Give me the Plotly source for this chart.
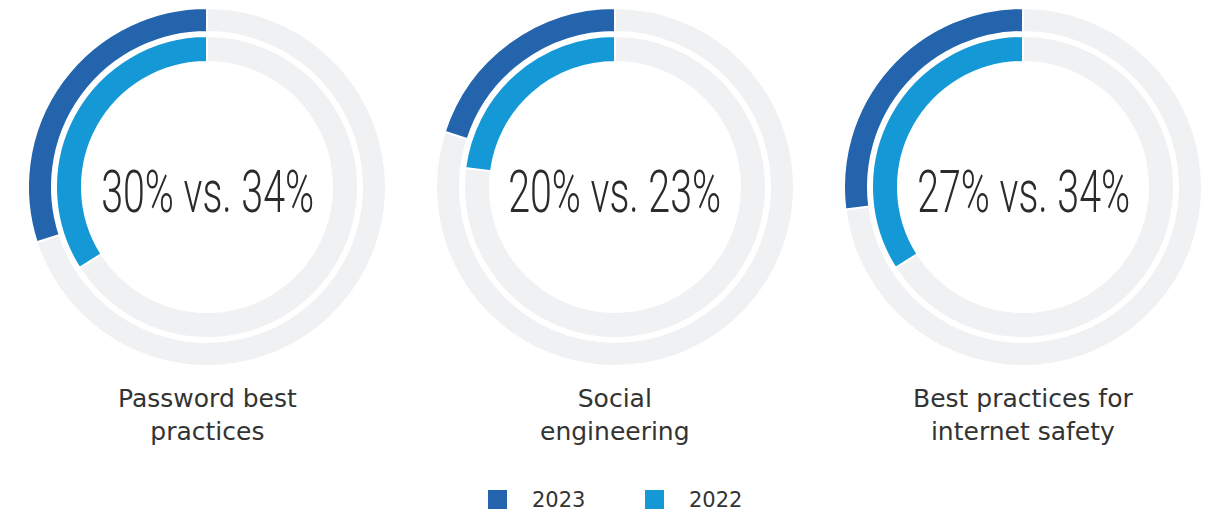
import plotly.graph_objects as go

# Survey topics and the share of respondents per year
topics = ["Password best<br>practices", "Social<br>engineering", "Best practices for<br>internet safety"]
share_2023 = [30, 20, 27]
share_2022 = [34, 23, 34]
years = ["2023", "2022"]

W, H = 1220, 511
DARK = "#2364AD"
LIGHT = "#1499D6"
TRACK = "#F0F1F3"
TEXT = "#2b2b2b"

centers_x = [207, 615, 1023]   # donut centres in px
center_y = 187                 # from top, px
R_OUT, HOLE_OUT = 179, 155 / 179
R_IN, HOLE_IN = 151, 125 / 151


def px(x, y):
    """Pixel position (from top-left) to paper coordinates."""
    return x / W, (H - y) / H


def domain(cx, r):
    yb = H - center_y
    return dict(x=[(cx - r) / W, (cx + r) / W], y=[(yb - r) / H, (yb + r) / H])


fig = go.Figure()

for i, topic in enumerate(topics):
    cx = centers_x[i]
    for val, color, r, hole in [
        (share_2023[i], DARK, R_OUT, HOLE_OUT),
        (share_2022[i], LIGHT, R_IN, HOLE_IN),
    ]:
        # grey remainder first, so the coloured share ends at 12 o'clock
        fig.add_trace(go.Pie(
            values=[100 - val, val],
            labels=["rest", "value"],
            marker=dict(colors=[TRACK, color], line=dict(color="white", width=2)),
            hole=hole,
            sort=False,
            direction="clockwise",
            rotation=0,
            textinfo="none",
            hoverinfo="skip",
            showlegend=False,
            domain=domain(cx, r),
        ))
    x0, y0 = px(cx, 191)
    fig.add_annotation(
        x=x0, y=y0, xref="paper", yref="paper",
        text=f"{share_2023[i]}% vs. {share_2022[i]}%",
        showarrow=False, xanchor="center", yanchor="middle",
        font=dict(family="Roboto", size=59, color=TEXT, weight=300),
    )
    x1, y1 = px(cx, 415)
    fig.add_annotation(
        x=x1, y=y1, xref="paper", yref="paper",
        text=topic, showarrow=False, xanchor="center", yanchor="middle",
        font=dict(family="DejaVu Sans", size=25, color="#333333"),
    )

# legend: coloured squares with year labels
legend_x = [488, 645]
for name, color, lx in zip(years, [DARK, LIGHT], legend_x):
    fig.add_shape(
        type="rect", xref="paper", yref="paper",
        x0=lx / W, x1=(lx + 19) / W, y0=(H - 509) / H, y1=(H - 490) / H,
        fillcolor=color, line=dict(width=0),
    )
    tx, ty = px(lx + 42, 500)
    fig.add_annotation(
        x=tx, y=ty, xref="paper", yref="paper", text=name, showarrow=False,
        xanchor="left", yanchor="middle",
        font=dict(family="DejaVu Sans", size=21, color="#333333"),
    )

fig.update_layout(
    width=W, height=H,
    margin=dict(l=0, r=0, t=0, b=0),
    paper_bgcolor="white", plot_bgcolor="white",
    showlegend=False,
)

# Narrow the centre figures to a condensed width (213 px wide each)
condense = """
var gd = document.getElementById('{plot_id}');
gd.querySelectorAll('g.annotation text.annotation-text').forEach(function (t) {
  if (t.textContent.indexOf('vs.') < 0) return;
  var bb = t.getBBox();
  var s = 213 / bb.width;
  var cx = bb.x + bb.width / 2;
  var old = t.getAttribute('transform') || '';
  t.setAttribute('transform', old + ' translate(' + cx + ',0) scale(' + s + ',1) translate(' + (-cx) + ',0)');
});
"""

fig.write_html("out.html", post_script=condense)
